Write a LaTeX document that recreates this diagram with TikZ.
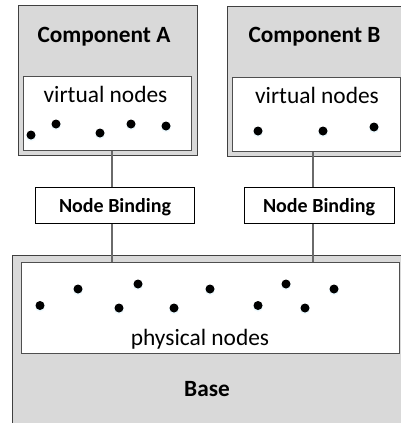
\documentclass[tikz,border=0pt]{standalone}
\usepackage{fontspec}
\setmainfont{Carlito}
\definecolor{panelgray}{HTML}{D9D9D9}
\definecolor{edgegray}{HTML}{4F4F4F}
\definecolor{linegray}{HTML}{6A6A6A}
\tikzset{
  panel/.style={draw=black!75,line width=1.2pt,fill=panelgray,inner sep=0pt,anchor=north west},
  inner/.style={draw=edgegray,line width=1.4pt,fill=white,inner sep=0pt,anchor=north west},
  bindbox/.style={draw=black,line width=1.2pt,fill=white,inner sep=0pt,anchor=north west},
  link/.style={draw=linegray,line width=1.3pt},
  title/.style={font=\fontsize{23.3}{26}\selectfont\bfseries,inner sep=0pt},
  bindlabel/.style={font=\fontsize{20}{24}\selectfont\bfseries,inner sep=0pt},
  caption/.style={font=\fontsize{23.4}{26}\selectfont,inner sep=0pt},
  dot/.style={circle,fill=black,inner sep=0pt,minimum size=9pt,
    preaction={fill=cyan!12,transform canvas={yshift=-1.2pt},draw=cyan!6,line width=1pt}}
}
\begin{document}
\begin{tikzpicture}[x=1pt,y=-1pt]
\useasboundingbox (0,0) rectangle (401,423);
% panels
\node[panel,minimum width=179.5pt,minimum height=150pt] (compA) at (17.5,5) {};
\node[panel,minimum width=180pt,minimum height=150pt] (compB) at (226.5,5.5) {};
\node[panel,minimum width=395pt,minimum height=175pt] (base) at (11.5,254.5) {};
% inner boxes
\node[inner,minimum width=168pt,minimum height=74pt] (virtA) at (23,76) {};
\node[inner,minimum width=168pt,minimum height=74.5pt] (virtB) at (232,76.5) {};
\node[inner,minimum width=378pt,minimum height=91pt] (phys) at (21,262) {};
% binding boxes
\node[bindbox,minimum width=159pt,minimum height=36pt] (bindA) at (35,187) {};
\node[bindbox,minimum width=150.5pt,minimum height=36pt] (bindB) at (243.5,187) {};
% connectors
\coordinate (lineA) at (112,0);
\coordinate (lineB) at (313,0);
\draw[link] (virtA.south -| lineA) -- (bindA.north -| lineA);
\draw[link] (bindA.south -| lineA) -- (phys.north -| lineA);
\draw[link] (virtB.south -| lineB) -- (bindB.north -| lineB);
\draw[link] (bindB.south -| lineB) -- (phys.north -| lineB);
% labels
\node[title] (tA) at (104,37) {Component A};
\node[title] (tB) at (314.5,37) {Component B};
\node[title] (tBase) at (207,389) {Base};
\node[caption] (cA) at (105.5,94.5) {virtual nodes};
\node[caption] (cB) at (317,95) {virtual nodes};
\node[caption] (cP) at (200,339) {physical nodes};
\node[bindlabel] (lA) at (115,207) {Node Binding};
\node[bindlabel] (lB) at (319,207) {Node Binding};
% dots
\foreach \n/\x/\y in {a1/31/135,a2/56/124,a3/100/133,a4/131/124,a5/166/126,
  b1/258/131,b2/323/131,b3/374/127,
  p1/40/305.5,p2/78/289,p3/119/308,p4/138/284,p5/174/308,p6/210/289,p7/258/305.5,p8/286/284,p9/305/308,p10/334/289}
  \node[dot] (\n) at (\x,\y) {};
\end{tikzpicture}
\end{document}
